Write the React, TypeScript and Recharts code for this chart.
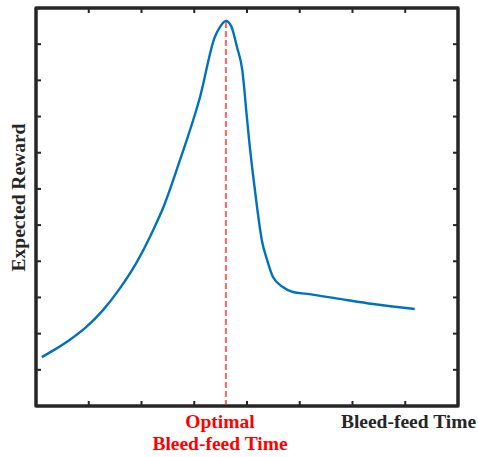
import React from "react";
import { LineChart, Line, XAxis, YAxis, ReferenceLine, ReferenceArea } from "recharts";

const timeValues = [0.11, 0.32, 0.63, 0.95, 1.27, 1.57, 1.9, 2.22, 2.43, 2.73, 3.11, 3.39, 3.49, 3.6, 3.7, 3.81, 3.91, 4.0, 4.04, 4.11, 4.19, 4.28, 4.38, 4.49, 4.68, 4.87, 5.14, 5.76, 6.39, 7.18];
const rewardValues = [1.35, 1.53, 1.82, 2.18, 2.65, 3.21, 3.95, 4.86, 5.55, 6.8, 8.54, 10.2, 10.48, 10.64, 10.5, 9.92, 9.29, 7.95, 7.35, 6.44, 5.5, 4.59, 4.04, 3.57, 3.29, 3.15, 3.1, 2.96, 2.82, 2.68];
const xTicks = [0, 1, 2, 3, 4, 5, 6, 7, 8];
const yTicks = [0, 1, 2, 3, 4, 5, 6, 7, 8, 9, 10, 11];
const optimalTime = 3.6;
const optimalReward = 10.64;

const yLabel = "Expected Reward";
const xLabel = "Bleed-feed Time";
const optimalLabel = ["Optimal", "Bleed-feed Time"];

const data = timeValues.map((t, i) => ({ t, r: rewardValues[i] }));

const AXIS = "#262626";
const FONT = "'Liberation Serif', 'Times New Roman', serif";

const NoLabel = () => <g />;

export default function App() {
  const axisLine = { stroke: AXIS, strokeWidth: 3 };
  const tickLine = { stroke: AXIS, strokeWidth: 2 };
  return (
    <div style={{ position: "absolute", left: 0, top: 0, width: 478, height: 457, background: "#fff" }}>
      <LineChart width={478} height={457} data={data} margin={{ top: 7, right: 19, bottom: 50, left: 35 }}>
        <XAxis xAxisId="b" dataKey="t" type="number" domain={[0, 8]} ticks={xTicks} interval={0} orientation="bottom" height={1} tickSize={-5} tick={NoLabel} axisLine={axisLine} tickLine={tickLine} allowDataOverflow />
        <XAxis xAxisId="t" dataKey="t" type="number" domain={[0, 8]} ticks={xTicks} interval={0} orientation="top" height={1} tickSize={-5} tick={NoLabel} axisLine={axisLine} tickLine={tickLine} allowDataOverflow />
        <YAxis yAxisId="l" type="number" domain={[0, 11]} ticks={yTicks} interval={0} orientation="left" width={1} tickSize={-5} tick={NoLabel} axisLine={axisLine} tickLine={tickLine} allowDataOverflow />
        <YAxis yAxisId="r" type="number" domain={[0, 11]} ticks={yTicks} interval={0} orientation="right" width={1} tickSize={-5} tick={NoLabel} axisLine={axisLine} tickLine={tickLine} allowDataOverflow />
        <ReferenceArea xAxisId="b" yAxisId="l" x1={0} x2={8} y1={0} y2={11} fill="none" fillOpacity={0} stroke={AXIS} strokeWidth={3} ifOverflow="visible" />
        <Line xAxisId="b" yAxisId="l" type="monotone" dataKey="r" stroke="#0072BD" strokeWidth={2.4} dot={false} isAnimationActive={false} />
        <ReferenceLine xAxisId="b" yAxisId="l" segment={[{ x: optimalTime, y: 0 }, { x: optimalTime, y: optimalReward }]} stroke="#ff6464" strokeWidth={2} strokeDasharray="6 3" />
      </LineChart>
      <svg width={478} height={457} style={{ position: "absolute", left: 0, top: 0, pointerEvents: "none" }}>
        <text x={25} y={197.5} transform="rotate(-90 25 197.5)" textAnchor="middle" fontFamily={FONT} fontWeight="bold" fontSize={19.5} fill={AXIS}>{yLabel}</text>
        <text x={408.5} y={428} textAnchor="middle" fontFamily={FONT} fontWeight="bold" fontSize={19.5} fill={AXIS}>{xLabel}</text>
        <text x={220} y={428} textAnchor="middle" fontFamily={FONT} fontWeight="bold" fontSize={19.5} fill="#ff0000">{optimalLabel[0]}</text>
        <text x={220} y={450} textAnchor="middle" fontFamily={FONT} fontWeight="bold" fontSize={19.5} fill="#ff0000">{optimalLabel[1]}</text>
      </svg>
    </div>
  );
}
